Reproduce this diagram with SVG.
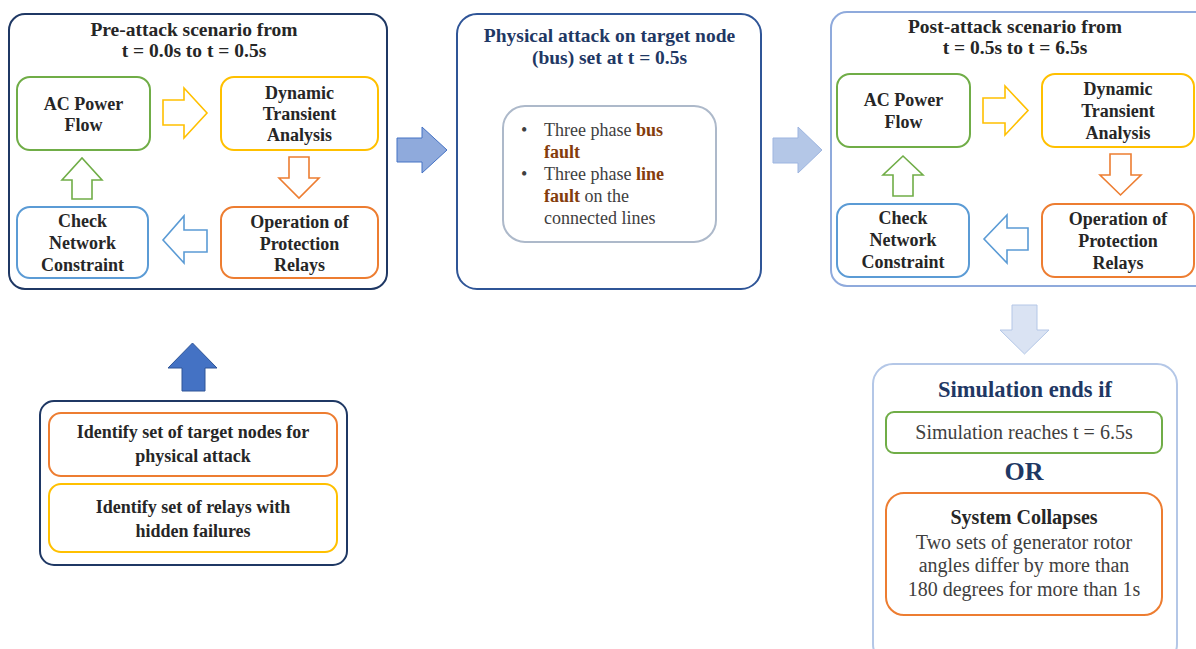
<svg xmlns="http://www.w3.org/2000/svg" width="1196" height="649" viewBox="0 0 1196 649">
<style>
text{font-family:"Liberation Serif","Times New Roman",serif}
.t{font-size:19.5px;font-weight:bold;fill:#262626;text-anchor:middle}
.tn{font-size:19.5px;font-weight:bold;fill:#1f3864;text-anchor:middle}
.n{font-size:18px;font-weight:bold;fill:#262626;text-anchor:middle}
.b{font-size:18px;fill:#404040}
.bb{font-weight:bold;fill:#843c0c}
.r{font-size:20px;fill:#404040;text-anchor:middle}
.box{fill:#fff;stroke-width:2}
.g{stroke:#70ad47}.y{stroke:#ffc000}.o{stroke:#ed7d31}.bl{stroke:#5b9bd5}
.ha{fill:#fff;stroke-width:1.6;stroke-linejoin:miter}
</style>
<rect width="1196" height="649" fill="#fff"/>

<g id="pre-attack">
<rect x="9" y="14" width="378" height="275" rx="16" fill="#fff" stroke="#1f3864" stroke-width="2"/>
<text class="t" x="194" y="36">Pre-attack scenario from</text>
<text class="t" x="194" y="57">t = 0.0s to t = 0.5s</text>
</g>
<g id="pre-acpf">
<rect class="box g" x="17" y="77" width="133" height="73" rx="13"/>
<text class="n" x="83.5" y="110">AC Power</text>
<text class="n" x="83.5" y="131">Flow</text>
</g>
<g id="pre-dta">
<rect class="box y" x="221" y="77" width="157" height="73" rx="13"/>
<text class="n" x="299.5" y="99">Dynamic</text>
<text class="n" x="299.5" y="120">Transient</text>
<text class="n" x="299.5" y="141">Analysis</text>
</g>
<g id="pre-opr">
<rect class="box o" x="221" y="207" width="157" height="71" rx="13"/>
<text class="n" x="299.5" y="228">Operation of</text>
<text class="n" x="299.5" y="250">Protection</text>
<text class="n" x="299.5" y="271">Relays</text>
</g>
<g id="pre-cnc">
<rect class="box bl" x="17" y="207" width="131" height="71" rx="13"/>
<text class="n" x="82.5" y="227">Check</text>
<text class="n" x="82.5" y="249">Network</text>
<text class="n" x="82.5" y="271">Constraint</text>
</g>

<g id="attack">
<rect x="457" y="14" width="304" height="275" rx="20" fill="#fff" stroke="#2f5597" stroke-width="2"/>
<text class="tn" x="609.5" y="42">Physical attack on target node</text>
<text class="tn" x="609.5" y="64">(bus) set at t = 0.5s</text>
<rect x="503" y="106" width="213" height="136" rx="22" fill="#fff" stroke="#adb9ca" stroke-width="2"/>
<text class="b" x="521" y="136">•</text>
<text class="b" x="544" y="136">Three phase <tspan class="bb">bus</tspan></text>
<text class="b" x="544" y="158"><tspan class="bb">fault</tspan></text>
<text class="b" x="521" y="180">•</text>
<text class="b" x="544" y="180">Three phase <tspan class="bb">line</tspan></text>
<text class="b" x="544" y="202"><tspan class="bb">fault</tspan> on the</text>
<text class="b" x="544" y="224">connected lines</text>
</g>

<g id="post-attack">
<rect x="831" y="12" width="380" height="274" rx="16" fill="#fff" stroke="#8faadc" stroke-width="2"/>
<text class="t" x="1015" y="33">Post-attack scenario from</text>
<text class="t" x="1015" y="54">t = 0.5s to t = 6.5s</text>
</g>
<g id="post-acpf">
<rect class="box g" x="837" y="74" width="133" height="73" rx="13"/>
<text class="n" x="903.5" y="106">AC Power</text>
<text class="n" x="903.5" y="128">Flow</text>
</g>
<g id="post-dta">
<rect class="box y" x="1042" y="74" width="152" height="73" rx="13"/>
<text class="n" x="1118" y="95">Dynamic</text>
<text class="n" x="1118" y="117">Transient</text>
<text class="n" x="1118" y="139">Analysis</text>
</g>
<g id="post-opr">
<rect class="box o" x="1042" y="204" width="152" height="73" rx="13"/>
<text class="n" x="1118" y="225">Operation of</text>
<text class="n" x="1118" y="247">Protection</text>
<text class="n" x="1118" y="269">Relays</text>
</g>
<g id="post-cnc">
<rect class="box bl" x="837" y="204" width="132" height="73" rx="13"/>
<text class="n" x="903" y="224">Check</text>
<text class="n" x="903" y="246">Network</text>
<text class="n" x="903" y="268">Constraint</text>
</g>

<g id="identify">
<rect x="40" y="401" width="307" height="164" rx="14" fill="#fff" stroke="#1f3864" stroke-width="2"/>
<rect class="box o" x="49" y="413" width="288" height="63" rx="12"/>
<text class="n" x="193" y="438">Identify set of target nodes for</text>
<text class="n" x="193" y="462">physical attack</text>
<rect class="box y" x="49" y="484" width="288" height="68" rx="12"/>
<text class="n" x="193" y="513">Identify set of relays with</text>
<text class="n" x="193" y="537">hidden failures</text>
</g>

<g id="end">
<rect x="873" y="364" width="304" height="300" rx="20" fill="#fff" stroke="#b4c7e7" stroke-width="2"/>
<text x="1025" y="397" style="font-size:22.5px;font-weight:bold;fill:#1f3864;text-anchor:middle">Simulation ends if</text>
<rect class="box g" x="886" y="412" width="276" height="41" rx="8"/>
<text class="r" x="1024" y="439">Simulation reaches t = 6.5s</text>
<text x="1024" y="480" style="font-size:26px;font-weight:bold;fill:#1f3864;text-anchor:middle">OR</text>
<rect class="box o" x="886" y="493" width="276" height="122" rx="18"/>
<text x="1024" y="524" style="font-size:20px;font-weight:bold;fill:#262626;text-anchor:middle">System Collapses</text>
<text class="r" x="1024" y="549">Two sets of generator rotor</text>
<text class="r" x="1024" y="572">angles differ by more than</text>
<text class="r" x="1024" y="596">180 degrees for more than 1s</text>
</g>

<g id="connectors">
<path class="ha" stroke="#ffc000" d="M163,100 L184,100 L184,88 L207,113 L184,138 L184,125 L163,125 Z"/>
<path class="ha" stroke="#ed7d31" d="M289,157 L309,157 L309,178 L319,178 L299,198 L279,178 L289,178 Z"/>
<path class="ha" stroke="#5b9bd5" d="M207,230 L184,230 L184,216 L163,240 L184,263 L184,252 L207,252 Z"/>
<path class="ha" stroke="#70ad47" d="M72,199 L72,180 L62,180 L82,158 L102,180 L92,180 L92,199 Z"/>

<path class="ha" stroke="#ffc000" d="M983,98 L1005,98 L1005,86 L1028,110.5 L1005,135 L1005,123 L983,123 Z"/>
<path class="ha" stroke="#ed7d31" d="M1110,154 L1131,154 L1131,175 L1141,175 L1120.5,195 L1100,175 L1110,175 Z"/>
<path class="ha" stroke="#5b9bd5" d="M1028,228 L1007,228 L1007,215 L984,239 L1007,263 L1007,250 L1028,250 Z"/>
<path class="ha" stroke="#70ad47" d="M893,196 L893,175 L883,175 L903,156 L923,175 L913,175 L913,196 Z"/>

<path fill="#8faadc" stroke="#4472c4" stroke-width="1" d="M397,138 L422,138 L422,127 L447,150 L422,173 L422,162 L397,162 Z"/>
<path fill="#b4c7e7" stroke="#9db5e0" stroke-width="1" d="M773,138 L798,138 L798,127 L822,150 L798,173 L798,163 L773,163 Z"/>
<path fill="#dae3f3" stroke="#b4c7e7" stroke-width="1" d="M1012,305 L1037,305 L1037,330 L1049,330 L1024.5,354 L1000,330 L1012,330 Z"/>
<path fill="#4472c4" stroke="#2f5597" stroke-width="1" d="M182,391 L182,368 L168,368 L192.5,343 L217,368 L205,368 L205,391 Z"/>
</g>
</svg>
